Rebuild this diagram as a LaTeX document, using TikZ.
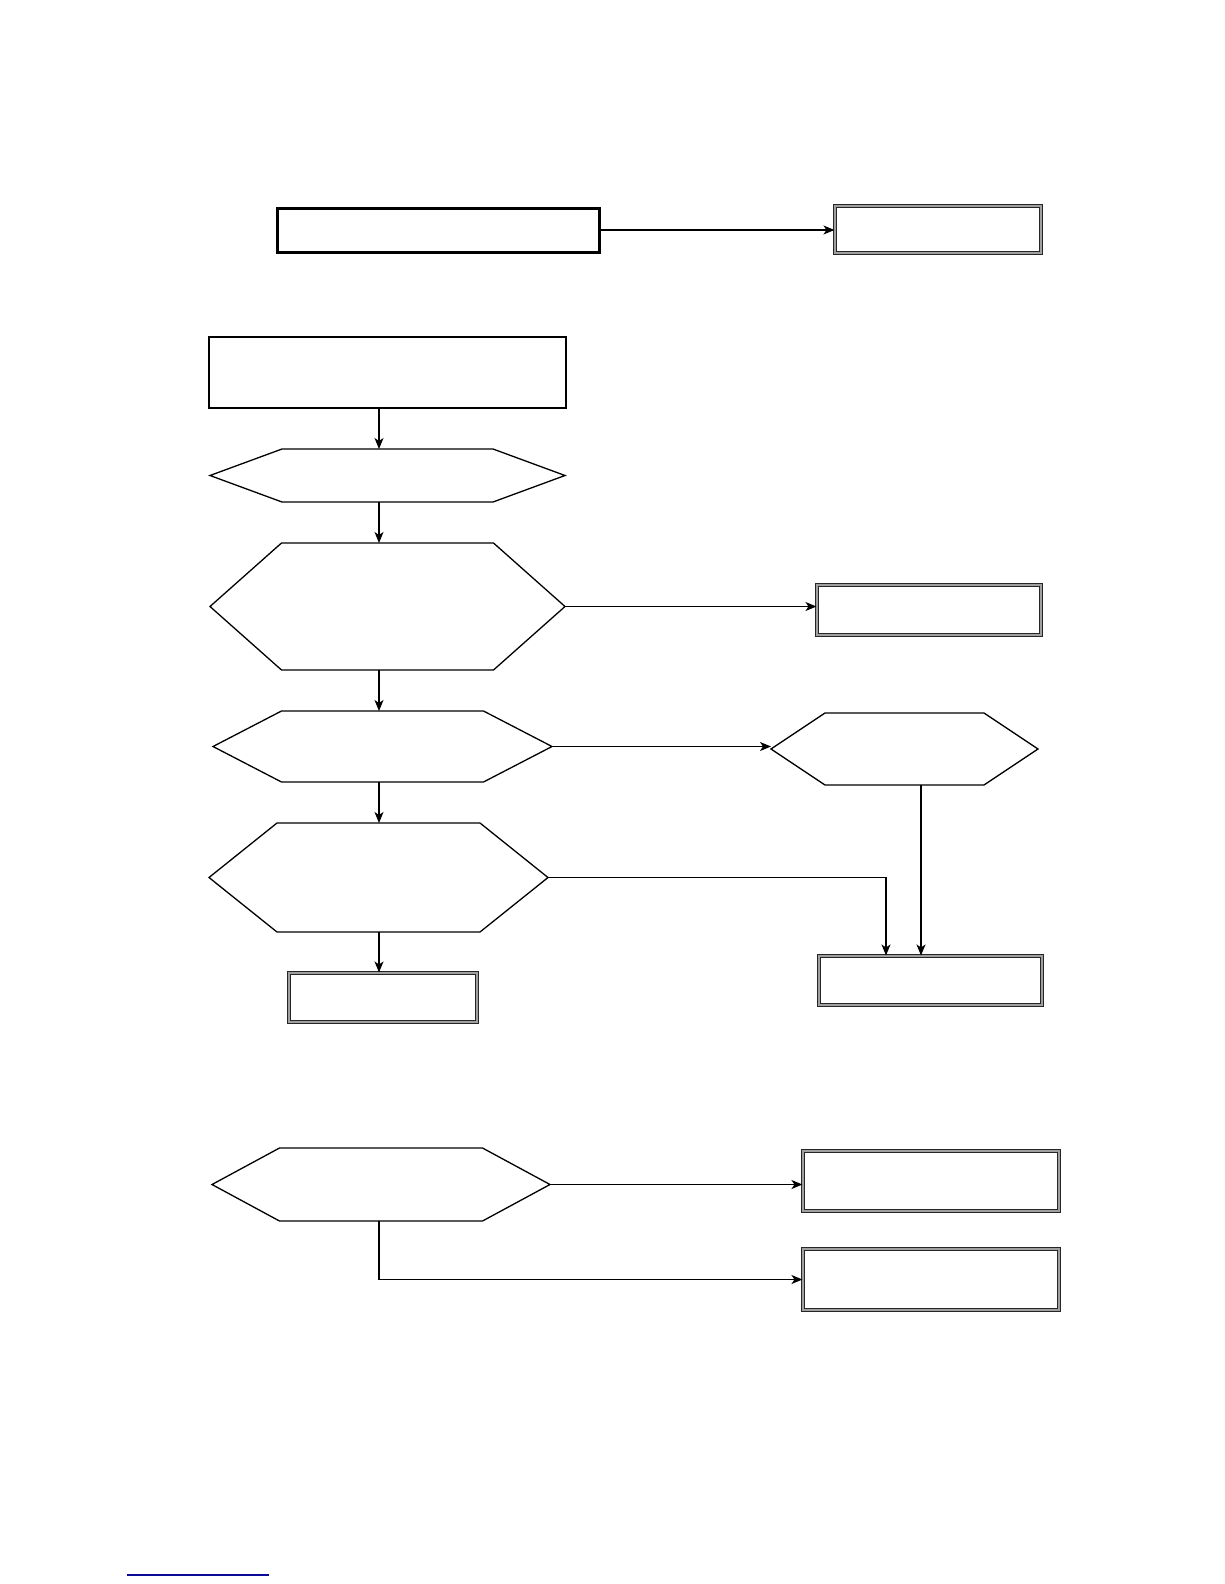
\documentclass[tikz,border=0pt]{standalone}
\usepackage{tikz}
\usetikzlibrary{arrows.meta,calc}
\tikzset{
  flow/.style={line width=1.2pt,-{Stealth[length=11pt,width=9pt,inset=3pt]}},
  plainbox/.style={rectangle,draw,inner sep=0pt,line width=1.6pt},
  heavybox/.style={rectangle,draw,inner sep=0pt,line width=3pt},
  endbox/.style={rectangle,draw=black!85,inner sep=0pt,line width=1.1pt,double=gray!75,double distance=1.6pt},
  hexframe/.style={rectangle,inner sep=0pt,outer sep=0pt}
}
% hexagon: name, centre, width, height, cut
\newcommand{\hexbox}[5]{%
\node[hexframe,minimum width=#3pt,minimum height=#4pt](#1)at#2{};
\draw[line width=1.3pt](#1.west)--([xshift=#5pt]#1.north west)--([xshift=-#5pt]#1.north east)
--(#1.east)--([xshift=-#5pt]#1.south east)--([xshift=#5pt]#1.south west)--cycle;
}
\begin{document}
\begin{tikzpicture}[x=1pt,y=-1pt]
\useasboundingbox(0,0)rectangle(1224,1584);
\coordinate(spine)at(379,0);
%top row
\node[heavybox,minimum width=322pt,minimum height=44pt](boxA)at(438,230){};
\node[endbox,minimum width=206pt,minimum height=47pt](boxB)at(938,229.5){};
\draw[flow](boxA.east)--(boxA.east-|boxB.west);
%main chain
\node[plainbox,minimum width=357pt,minimum height=71pt](boxC)at(387.5,372.5){};
\hexbox{h1}{(387.5,475.5)}{355}{53}{72}
\hexbox{h2}{(387.5,606.5)}{355}{127}{71.5}
\hexbox{h3}{(382.5,746.5)}{339}{71}{68.5}
\hexbox{h4}{(904.5,749)}{267}{72}{54}
\hexbox{h5}{(378.5,877.5)}{339}{109}{68}
\node[endbox,minimum width=224pt,minimum height=50pt](boxD)at(929,610){};
\node[endbox,minimum width=188pt,minimum height=49pt](boxE)at(383,997.5){};
\node[endbox,minimum width=223pt,minimum height=49pt](boxF)at(930.5,980.5){};
%arrows
\draw[flow](boxC.south-|spine)--(h1.north-|spine);
\draw[flow](h1.south-|spine)--(h2.north-|spine);
\draw[flow](h2.south-|spine)--(h3.north-|spine);
\draw[flow](h3.south-|spine)--(h5.north-|spine);
\draw[flow](h5.south-|spine)--(boxE.north-|spine);
\draw[flow](h2.east)--(h2.east-|boxD.west);
\draw[flow](h3.east)--(h3.east-|h4.west);
\draw[flow]([xshift=16.5pt]h4.south)--([xshift=16.5pt]h4.south|-boxF.north);
\draw[flow](h5.east)-|([xshift=-44.5pt]boxF.north);
%bottom group
\hexbox{h6}{(381,1184.5)}{338}{73}{67.5}
\node[endbox,minimum width=256pt,minimum height=60pt](boxG)at(931,1181){};
\node[endbox,minimum width=256pt,minimum height=61pt](boxH)at(931,1279.5){};
\draw[flow](h6.east)--(h6.east-|boxG.west);
\draw[flow](h6.south-|spine)|-(boxH.west);
%link rule
\draw[line width=1.2pt,color={rgb,255:red,10;green,10;blue,150}](127,1575)--(269,1575);
\end{tikzpicture}
\end{document}
